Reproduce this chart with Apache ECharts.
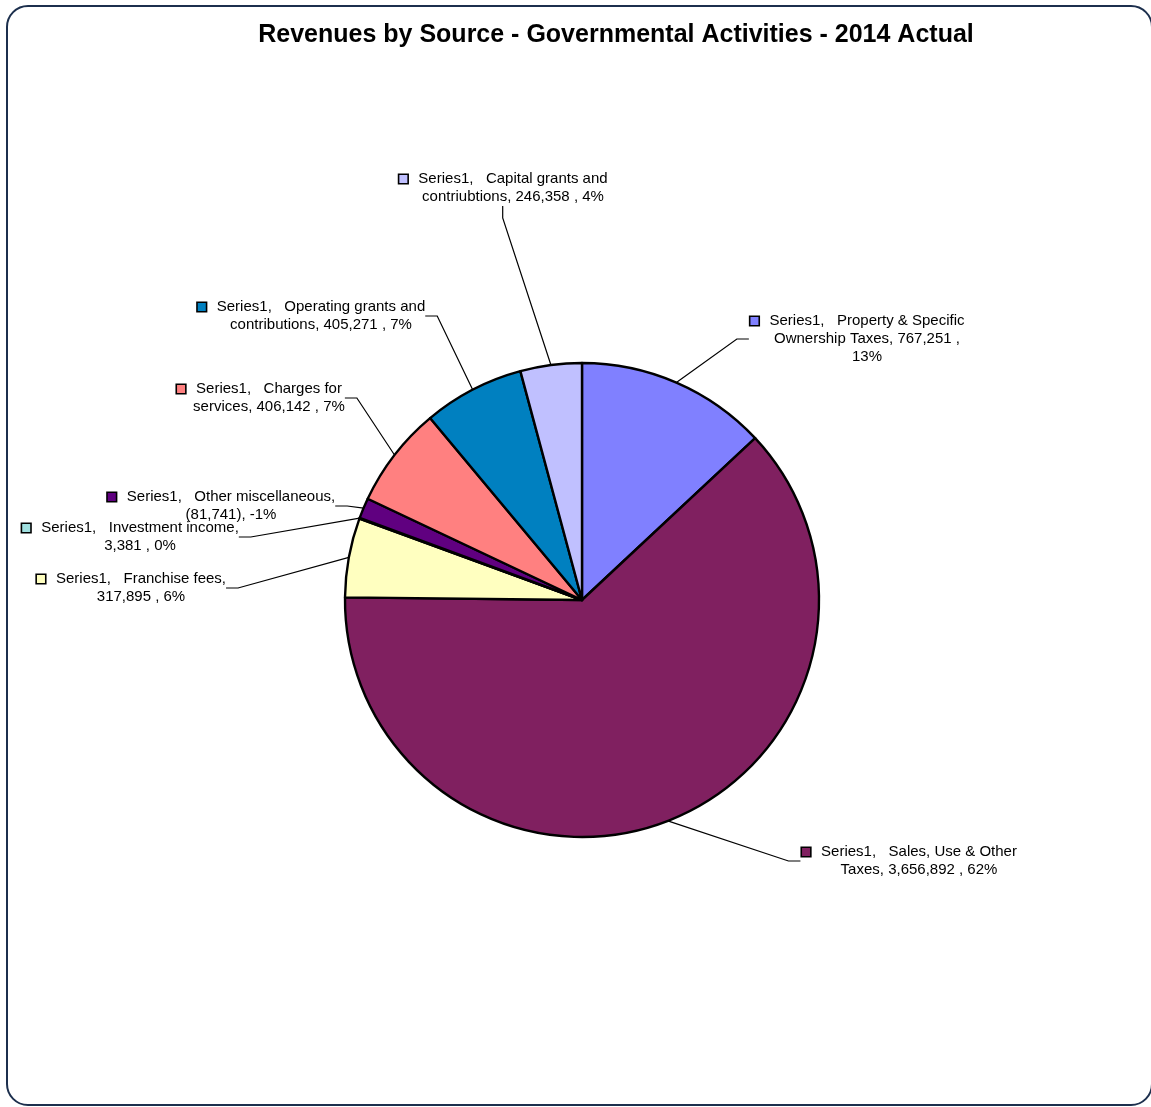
<!DOCTYPE html>
<html><head><meta charset="utf-8">
<script src="https://cdn.jsdelivr.net/npm/echarts@6/dist/echarts.min.js"></script>
<style>
html,body{margin:0;padding:0;background:#fff;}
#frame{position:absolute;left:6px;top:5px;width:1147px;height:1101px;border:2px solid #1c2f4d;border-radius:22px;box-sizing:border-box;}
#chart{position:absolute;left:0;top:0;width:1151px;height:1107px;}
</style></head><body>
<div id="frame"></div><div id="chart"></div>
<script>
// ---- data (clockwise from 12 o'clock) ----
const seriesName = 'Series1';
const chartTitle = 'Revenues by Source - Governmental Activities - 2014 Actual';
const categories = [
  'Property & Specific\nOwnership Taxes',
  'Sales, Use & Other\nTaxes',
  'Franchise fees',
  'Investment income',
  'Other miscellaneous',
  'Charges for\nservices',
  'Operating grants and\ncontributions',
  'Capital grants and\ncontriubtions'
];
const values = [767251, 3656892, 317895, 3381, -81741, 406142, 405271, 246358];
const percents = [13, 62, 6, 0, -1, 7, 7, 4];
// where the wrapped label breaks: 'none' (inside name), 'value' (before value), 'pct' (before percent)
const labelBreaks = ['pct', 'none', 'value', 'value', 'value', 'none', 'none', 'none'];
const colors = ['#8080FF', '#802060', '#FFFFC0', '#A0E0E0', '#600080', '#FF8080', '#0080C0', '#C0C0FF'];
// label anchor: [text centre x, first-line centre y]
const labelPos = [[867,321],[919,852],[141,579],[140,528],[231,497],[269,389],[321,307],[513,179]];

const FONT = '"Liberation Sans", Arial, sans-serif';
const BOX = 8, GAP = 11, LEAD = BOX + GAP;

function fmtNum(v) {
  const s = Math.abs(v).toLocaleString('en-US');
  return v < 0 ? '(' + s + ')' : s + ' ';
}
function labelText(i) {
  const b = labelBreaks[i];
  const txt = seriesName + ',   ' + categories[i] + ',' + (b === 'value' ? '\n' : ' ') +
    fmtNum(values[i]) + ',' + (b === 'pct' ? '\n' : ' ') + percents[i] + '%';
  return txt.split('\n').map((l, k) => (k === 0 ? '{box|}{gap|}' : '{pad|}') + l).join('\n');
}

const data = categories.map((c, i) => ({
  name: c,
  value: Math.abs(values[i]),
  itemStyle: { color: colors[i] },
  label: {
    formatter: labelText(i),
    rich: {
      box: { width: BOX, height: BOX, backgroundColor: colors[i], borderColor: '#000', borderWidth: 1.6 },
      gap: { width: GAP },
      pad: { width: LEAD }
    }
  }
}));

const chart = echarts.init(document.getElementById('chart'), null, { renderer: 'canvas' });
chart.setOption({
  animation: false,
  backgroundColor: 'transparent',
  graphic: [{
    type: 'text',
    x: 616,
    y: 35,
    style: {
      text: chartTitle,
      fill: '#000',
      font: 'bold 25px ' + FONT,
      textAlign: 'center',
      textVerticalAlign: 'middle'
    }
  }],
  series: [{
    type: 'pie',
    center: [582, 600],
    radius: 237,
    startAngle: 90,
    clockwise: true,
    avoidLabelOverlap: false,
    minAngle: 0,
    itemStyle: { borderColor: '#000', borderWidth: 2.4 },
    emphasis: { disabled: true },
    label: {
      show: true,
      position: 'outside',
      fontFamily: FONT,
      fontSize: 15,
      color: '#000',
      lineHeight: 18,
      align: 'center'
    },
    labelLine: { show: true, length: 10, length2: 12, smooth: false, lineStyle: { color: '#000', width: 1.2 } },
    labelLayout: function (p) {
      const pos = labelPos[p.dataIndex];
      return { x: pos[0] - LEAD / 2, y: pos[1] - 9, align: 'center', verticalAlign: 'top' };
    },
    data: data
  }]
});
</script>
</body></html>
